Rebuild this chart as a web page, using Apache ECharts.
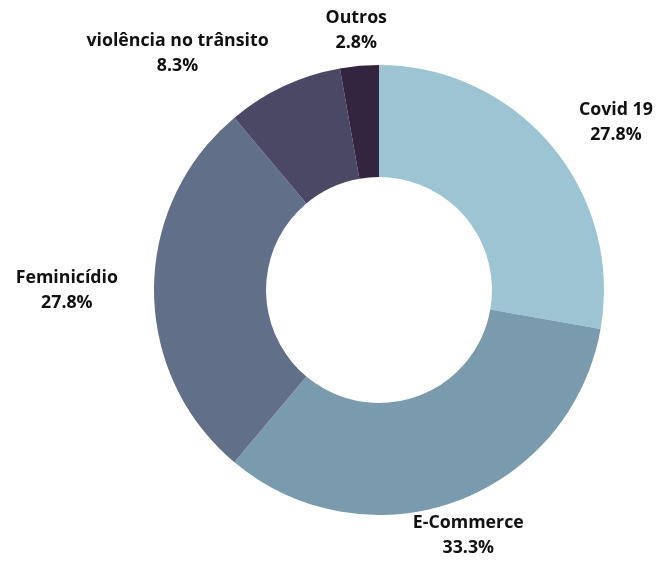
<!DOCTYPE html>
<html>
<head>
<meta charset="utf-8">
<script src="https://cdn.jsdelivr.net/npm/echarts@6/dist/echarts.min.js"></script>
<style>html,body{margin:0;padding:0;background:#fff;}#c{width:656px;height:561px;}</style>
</head>
<body>
<div id="c"></div>
<script>
const categories = ['Covid 19', 'E-Commerce', 'Feminicídio', 'violência no trânsito', 'Outros'];
const values = [10, 12, 10, 3, 1];
const percentLabels = ['27.8%', '33.3%', '27.8%', '8.3%', '2.8%'];
const colors = ['#9cc4d3', '#7a9aae', '#616f88', '#4b4866', '#33243f'];
const centeredLabels = ['E-Commerce', 'Outros'];

const chart = echarts.init(document.getElementById('c'));
chart.setOption({
  animation: false,
  series: [{
    type: 'pie',
    center: [379, 290],
    radius: [113, 225],
    startAngle: 90,
    clockwise: true,
    avoidLabelOverlap: false,
    data: categories.map((name, i) => ({
      name: name,
      value: values[i],
      itemStyle: { color: colors[i] }
    })),
    label: {
      show: true,
      position: 'outside',
      distanceToLabelLine: 0,
      fontFamily: '"Open Sans", sans-serif',
      fontWeight: 'bold',
      fontSize: 17.75,
      lineHeight: 25,
      color: '#111111',
      formatter: p => p.name + '\n' + percentLabels[p.dataIndex]
    },
    labelLine: { show: false, length: 36, length2: 0 },
    labelLayout: function (params) {
      const r = params.labelRect;
      const anchor = params.align === 'right' ? r.x + r.width : (params.align === 'center' ? r.x + r.width / 2 : r.x);
      const name = categories[params.dataIndex];
      const cx = centeredLabels.indexOf(name) >= 0 ? anchor : r.x + r.width / 2;
      return { x: cx, y: r.y + r.height / 2, align: 'center', verticalAlign: 'middle' };
    },
    emphasis: { disabled: true }
  }]
});
</script>
</body>
</html>
